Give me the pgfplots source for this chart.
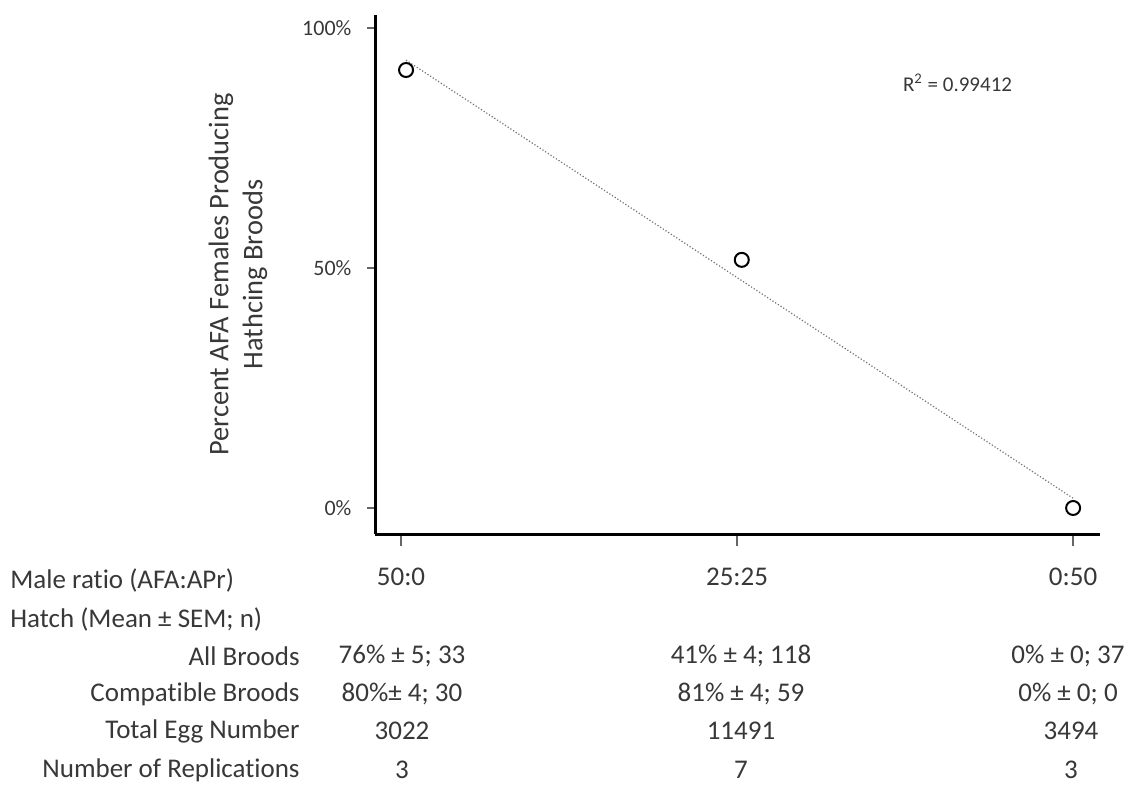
\documentclass[border=0pt]{standalone}
\usepackage{pgfplots}
\pgfplotsset{compat=1.18}
\usepackage{fontspec}
\setmainfont[Ligatures={NoCommon}]{Carlito}
\definecolor{txt}{gray}{0.22}
\begin{document}
\begin{tikzpicture}
\begin{scope}[x=0.5pt,y=-0.5pt]
\path[use as bounding box] (0,0) rectangle (1136,787);
\end{scope}
\begin{axis}[
  at={(187.5pt,-267pt)}, anchor=south west,
  scale only axis, width=362.5pt, height=259.5pt,
  xmin=-0.0774, xmax=2.080, ymin=-5.42, ymax=102.71,
  axis x line*=bottom, axis y line*=left,
  axis line style={-, line width=1.5pt, black},
  xtick={0,1,2}, xticklabels={50:0,25:25,0:50},
  ytick={0,50,100}, yticklabels={0\%,50\%,100\%},
  tick align=outside,
  x tick style={line width=0.8pt, black!60}, y tick style={line width=0.8pt, black!60},
  xtick style={/pgfplots/major tick length=6pt},
  ytick style={/pgfplots/major tick length=4pt},
  xticklabel style={font=\fontsize{13.5}{16}\selectfont, text=txt, yshift=-9pt},
  yticklabel style={font=\fontsize{11}{13}\selectfont, text=txt, xshift=-4pt},
  ylabel={Percent AFA Females Producing\\Hathcing Broods},
  ylabel style={font=\fontsize{14.2}{17}\selectfont, text=txt, align=center, at={(axis description cs:-0.189,0.5)}, anchor=center},
  clip=false,
]
\addplot[black!55, densely dotted, line width=0.6pt] coordinates {(0.015,93.3) (2,2.03)};
\addplot[only marks, mark=o, mark size=3.5pt, mark options={line width=1pt, fill=white, black}] coordinates {(0.015,91.25) (1.014,51.7) (2,0)};
\node[font=\fontsize{10.5}{12}\selectfont, text=txt, anchor=west] at (axis cs:1.473,88.5) {R\textsuperscript{2} = 0.99412};
\end{axis}
\begin{scope}[x=0.5pt,y=-0.5pt, every node/.style={font=\fontsize{13.5}{16}\selectfont, text=txt, inner sep=0pt}]
\node[anchor=west] at (10,580) {Male ratio (AFA:APr)};
\node[anchor=west] at (10,619) {Hatch (Mean ± SEM; n)};
\node[anchor=east] at (300,656) {All Broods};
\node[anchor=east] at (300,694) {Compatible Broods};
\node[anchor=east] at (300,731) {Total Egg Number};
\node[anchor=east] at (300,770) {Number of Replications};
\node at (402,656) {76\% ± 5; 33};
\node at (402,694) {80\%± 4; 30};
\node at (402,731) {3022};
\node at (402,770) {3};
\node at (741,656) {41\% ± 4; 118};
\node at (741,694) {81\% ± 4; 59};
\node at (741,731) {11491};
\node at (741,770) {7};
\node at (1068,656) {0\% ± 0; 37};
\node at (1068,694) {0\% ± 0; 0};
\node at (1071,731) {3494};
\node at (1071,770) {3};
\end{scope}
\end{tikzpicture}
\end{document}
